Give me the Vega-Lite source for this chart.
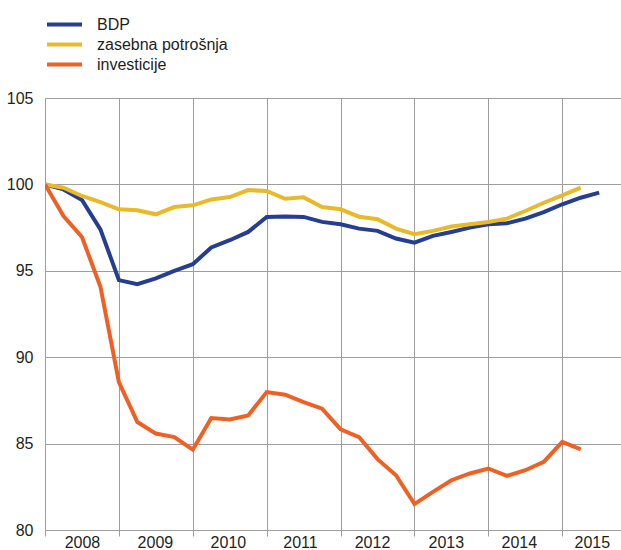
{
  "$schema": "https://vega.github.io/schema/vega-lite/v6.json",
  "width": 576,
  "height": 432,
  "autosize": {"type": "none"},
  "padding": {"left": 45, "top": 98, "right": 0, "bottom": 20},
  "background": "white",
  "config": {
    "view": {"stroke": null},
    "font": "Liberation Sans"
  },
  "data": {
    "values": [
      {"kvartal": 0, "serija": "BDP", "indeks": 100},
      {"kvartal": 1, "serija": "BDP", "indeks": 99.71},
      {"kvartal": 2, "serija": "BDP", "indeks": 99.1},
      {"kvartal": 3, "serija": "BDP", "indeks": 97.4},
      {"kvartal": 4, "serija": "BDP", "indeks": 94.46},
      {"kvartal": 5, "serija": "BDP", "indeks": 94.23},
      {"kvartal": 6, "serija": "BDP", "indeks": 94.56},
      {"kvartal": 7, "serija": "BDP", "indeks": 95.0},
      {"kvartal": 8, "serija": "BDP", "indeks": 95.38},
      {"kvartal": 9, "serija": "BDP", "indeks": 96.35},
      {"kvartal": 10, "serija": "BDP", "indeks": 96.77},
      {"kvartal": 11, "serija": "BDP", "indeks": 97.25},
      {"kvartal": 12, "serija": "BDP", "indeks": 98.12},
      {"kvartal": 13, "serija": "BDP", "indeks": 98.14},
      {"kvartal": 14, "serija": "BDP", "indeks": 98.12},
      {"kvartal": 15, "serija": "BDP", "indeks": 97.83},
      {"kvartal": 16, "serija": "BDP", "indeks": 97.69},
      {"kvartal": 17, "serija": "BDP", "indeks": 97.44},
      {"kvartal": 18, "serija": "BDP", "indeks": 97.31},
      {"kvartal": 19, "serija": "BDP", "indeks": 96.87},
      {"kvartal": 20, "serija": "BDP", "indeks": 96.63},
      {"kvartal": 21, "serija": "BDP", "indeks": 97.02},
      {"kvartal": 22, "serija": "BDP", "indeks": 97.25},
      {"kvartal": 23, "serija": "BDP", "indeks": 97.5},
      {"kvartal": 24, "serija": "BDP", "indeks": 97.69},
      {"kvartal": 25, "serija": "BDP", "indeks": 97.75},
      {"kvartal": 26, "serija": "BDP", "indeks": 98.02},
      {"kvartal": 27, "serija": "BDP", "indeks": 98.4},
      {"kvartal": 28, "serija": "BDP", "indeks": 98.85},
      {"kvartal": 29, "serija": "BDP", "indeks": 99.23},
      {"kvartal": 30, "serija": "BDP", "indeks": 99.52},
      {"kvartal": 0, "serija": "zasebna potrošnja", "indeks": 100},
      {"kvartal": 1, "serija": "zasebna potrošnja", "indeks": 99.81},
      {"kvartal": 2, "serija": "zasebna potrošnja", "indeks": 99.33},
      {"kvartal": 3, "serija": "zasebna potrošnja", "indeks": 98.98},
      {"kvartal": 4, "serija": "zasebna potrošnja", "indeks": 98.56},
      {"kvartal": 5, "serija": "zasebna potrošnja", "indeks": 98.5},
      {"kvartal": 6, "serija": "zasebna potrošnja", "indeks": 98.27},
      {"kvartal": 7, "serija": "zasebna potrošnja", "indeks": 98.69},
      {"kvartal": 8, "serija": "zasebna potrošnja", "indeks": 98.79},
      {"kvartal": 9, "serija": "zasebna potrošnja", "indeks": 99.13},
      {"kvartal": 10, "serija": "zasebna potrošnja", "indeks": 99.27},
      {"kvartal": 11, "serija": "zasebna potrošnja", "indeks": 99.67},
      {"kvartal": 12, "serija": "zasebna potrošnja", "indeks": 99.62},
      {"kvartal": 13, "serija": "zasebna potrošnja", "indeks": 99.17},
      {"kvartal": 14, "serija": "zasebna potrošnja", "indeks": 99.25},
      {"kvartal": 15, "serija": "zasebna potrošnja", "indeks": 98.69},
      {"kvartal": 16, "serija": "zasebna potrošnja", "indeks": 98.56},
      {"kvartal": 17, "serija": "zasebna potrošnja", "indeks": 98.13},
      {"kvartal": 18, "serija": "zasebna potrošnja", "indeks": 97.98},
      {"kvartal": 19, "serija": "zasebna potrošnja", "indeks": 97.44},
      {"kvartal": 20, "serija": "zasebna potrošnja", "indeks": 97.12},
      {"kvartal": 21, "serija": "zasebna potrošnja", "indeks": 97.31},
      {"kvartal": 22, "serija": "zasebna potrošnja", "indeks": 97.56},
      {"kvartal": 23, "serija": "zasebna potrošnja", "indeks": 97.69},
      {"kvartal": 24, "serija": "zasebna potrošnja", "indeks": 97.83},
      {"kvartal": 25, "serija": "zasebna potrošnja", "indeks": 98.02},
      {"kvartal": 26, "serija": "zasebna potrošnja", "indeks": 98.46},
      {"kvartal": 27, "serija": "zasebna potrošnja", "indeks": 98.94},
      {"kvartal": 28, "serija": "zasebna potrošnja", "indeks": 99.37},
      {"kvartal": 29, "serija": "zasebna potrošnja", "indeks": 99.81},
      {"kvartal": 0, "serija": "investicije", "indeks": 100},
      {"kvartal": 1, "serija": "investicije", "indeks": 98.17},
      {"kvartal": 2, "serija": "investicije", "indeks": 96.96},
      {"kvartal": 3, "serija": "investicije", "indeks": 94.08},
      {"kvartal": 4, "serija": "investicije", "indeks": 88.56},
      {"kvartal": 5, "serija": "investicije", "indeks": 86.25},
      {"kvartal": 6, "serija": "investicije", "indeks": 85.58},
      {"kvartal": 7, "serija": "investicije", "indeks": 85.38},
      {"kvartal": 8, "serija": "investicije", "indeks": 84.65},
      {"kvartal": 9, "serija": "investicije", "indeks": 86.48},
      {"kvartal": 10, "serija": "investicije", "indeks": 86.4},
      {"kvartal": 11, "serija": "investicije", "indeks": 86.63},
      {"kvartal": 12, "serija": "investicije", "indeks": 87.98},
      {"kvartal": 13, "serija": "investicije", "indeks": 87.83},
      {"kvartal": 14, "serija": "investicije", "indeks": 87.4},
      {"kvartal": 15, "serija": "investicije", "indeks": 87.02},
      {"kvartal": 16, "serija": "investicije", "indeks": 85.83},
      {"kvartal": 17, "serija": "investicije", "indeks": 85.38},
      {"kvartal": 18, "serija": "investicije", "indeks": 84.1},
      {"kvartal": 19, "serija": "investicije", "indeks": 83.17},
      {"kvartal": 20, "serija": "investicije", "indeks": 81.5},
      {"kvartal": 21, "serija": "investicije", "indeks": 82.21},
      {"kvartal": 22, "serija": "investicije", "indeks": 82.88},
      {"kvartal": 23, "serija": "investicije", "indeks": 83.27},
      {"kvartal": 24, "serija": "investicije", "indeks": 83.56},
      {"kvartal": 25, "serija": "investicije", "indeks": 83.13},
      {"kvartal": 26, "serija": "investicije", "indeks": 83.46},
      {"kvartal": 27, "serija": "investicije", "indeks": 83.94},
      {"kvartal": 28, "serija": "investicije", "indeks": 85.1},
      {"kvartal": 29, "serija": "investicije", "indeks": 84.67}
    ]
  },
  "mark": {"type": "line", "strokeWidth": 4, "clip": true},
  "encoding": {
    "x": {
      "field": "kvartal",
      "type": "quantitative",
      "scale": {"domain": [0, 31.18], "nice": false, "zero": false},
      "axis": {
        "title": null,
        "values": [0, 2, 4, 5.95, 8, 9.9, 12, 13.8, 16, 17.7, 20, 21.7, 24, 25.65, 28, 29.6],
        "labelExpr": "datum.value % 4 === 0 ? '' : '' + (2008 + floor(datum.value / 4))",
        "domain": false,
        "grid": true,
        "gridColor": "#9d9d9d",
        "gridWidth": 1,
        "gridOpacity": {"condition": {"test": "datum.value % 4 === 0", "value": 1}, "value": 0},
        "ticks": true,
        "tickSize": 6,
        "tickColor": "#9d9d9d",
        "tickOpacity": {"condition": {"test": "datum.value % 4 === 0", "value": 1}, "value": 0},
        "labelFontSize": 16,
        "labelColor": "#231f20",
        "labelPadding": -2,
        "labelFlush": false,
        "labelOverlap": false
      }
    },
    "y": {
      "field": "indeks",
      "type": "quantitative",
      "scale": {"domain": [80, 105], "nice": false, "zero": false},
      "axis": {
        "title": null,
        "values": [80, 85, 90, 95, 100, 105],
        "domain": false,
        "ticks": false,
        "grid": true,
        "gridColor": "#9d9d9d",
        "gridWidth": 1,
        "labelFontSize": 16,
        "labelColor": "#231f20",
        "labelPadding": 12
      }
    },
    "color": {
      "field": "serija",
      "type": "nominal",
      "sort": ["BDP", "zasebna potrošnja", "investicije"],
      "scale": {
        "domain": ["BDP", "zasebna potrošnja", "investicije"],
        "range": ["#253e92", "#e8b928", "#ee6024"]
      },
      "legend": {
        "title": null,
        "orient": "none",
        "legendX": 7.5,
        "legendY": -85.5,
        "padding": 0,
        "rowPadding": 0,
        "symbolType": "M-1.75,0L1.75,0",
        "symbolSize": 400,
        "symbolStrokeWidth": 4,
        "labelOffset": 20.5,
        "labelFontSize": 16,
        "labelColor": "#231f20"
      }
    }
  }
}
